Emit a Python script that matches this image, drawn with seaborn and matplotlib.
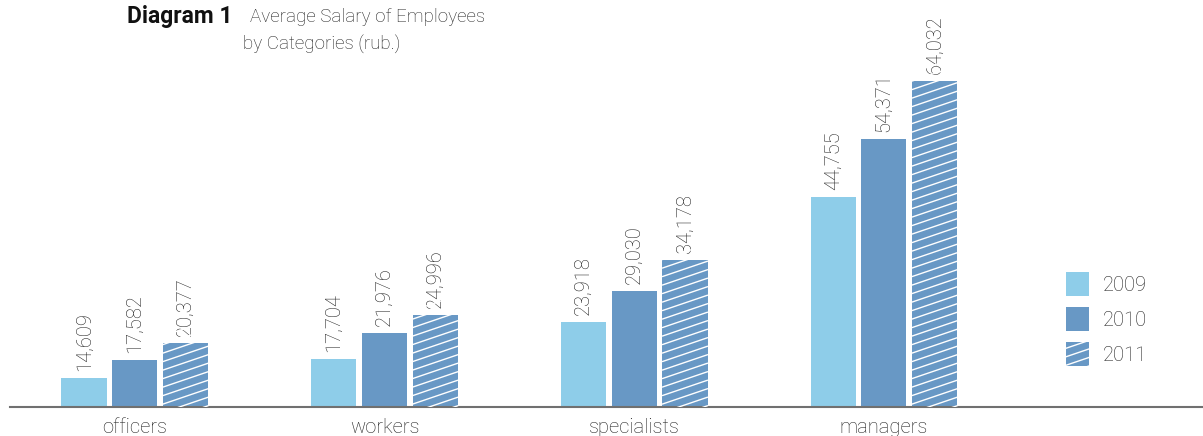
import numpy as np
import pandas as pd
import seaborn as sns
import matplotlib.pyplot as plt
from matplotlib.patches import Patch
from matplotlib.lines import Line2D
from matplotlib.transforms import IdentityTransform

categories = ["officers", "workers", "specialists", "managers"]
years = ["2009", "2010", "2011"]
salary_2009 = [14609, 17704, 23918, 44755]
salary_2010 = [17582, 21976, 29030, 54371]
salary_2011 = [20377, 24996, 34178, 64032]

colors = {"2009": "#8ecde9", "2010": "#6898c5", "2011": "#6898c5"}
txt = "#222222"

df = pd.DataFrame({
    "category": categories * 3,
    "year": ["2009"] * 4 + ["2010"] * 4 + ["2011"] * 4,
    "value": salary_2009 + salary_2010 + salary_2011,
})

sns.set_style("white")
plt.rcParams["font.family"] = ["Roboto", "DejaVu Sans"]
plt.rcParams["font.weight"] = "light"

W, H, dpi = 1203, 436, 100
fig = plt.figure(figsize=(W / dpi, H / dpi), dpi=dpi)
ax = fig.add_axes([10 / W, 29 / H, 1193 / W, 407 / H])

sns.barplot(data=df, x="category", y="value", hue="year", order=categories,
            hue_order=years, palette=colors, width=0.61, gap=0.11,
            linewidth=0, saturation=1, ax=ax, legend=False)

ax.set_xlim(-0.5, 4.278)
ax.set_ylim(9700, 77530)
ax.set_xlabel("")
ax.set_ylabel("")
ax.set_yticks([])
ax.tick_params(axis="x", length=0, pad=8, labelsize=14.5, labelcolor=txt)
for s in ["top", "left", "right"]:
    ax.spines[s].set_visible(False)
ax.spines["bottom"].set_color("#707070")
ax.spines["bottom"].set_linewidth(1.5)

for cont in ax.containers:
    for bar, v in zip(cont, cont.datavalues):
        ax.annotate(f"{int(v):,}", (bar.get_x() + bar.get_width() / 2, bar.get_height()),
                    xytext=(0, 5), textcoords="offset points", rotation=90,
                    ha="center", va="bottom", fontsize=14.5, color=txt)

# legend
handles = [Patch(facecolor=colors[y], edgecolor="none") for y in years]
leg = ax.legend(handles, years, loc="upper left", bbox_to_anchor=(1066 / W, 1 - 272 / H),
                bbox_transform=fig.transFigure, frameon=False, fontsize=14.5,
                handlelength=1.15, handleheight=1.45, handletextpad=0.7,
                labelspacing=0.55, borderpad=0, borderaxespad=0, labelcolor=txt)

fig.canvas.draw()


def shallow_hatch(patch, clip=None):
    # white shallow diagonal lines clipped to the bar
    bb = patch.get_window_extent()
    step = 8.5
    slope = 0.34
    x0, x1 = bb.x0, bb.x1
    start = bb.y0 - slope * (x1 - x0) - step
    for yy in np.arange(start, bb.y1 + step, step):
        ln = Line2D([x0, x1], [yy, yy + slope * (x1 - x0)], transform=IdentityTransform(),
                    color="white", lw=1.0)
        ln.set_clip_path(patch)
        if clip is not None:
            ln.set_clip_box(clip)
        fig.add_artist(ln)


for bar in ax.containers[2]:
    shallow_hatch(bar, ax.bbox)
shallow_hatch(leg.get_patches()[2])

fig.text(127 / W, 1 - 17 / H, "Diagram 1", fontsize=16.5, fontweight="bold",
         color="#111111", va="center", ha="left")
fig.text(250 / W, 1 - 17 / H, "Average Salary of Employees", fontsize=13.5,
         color=txt, va="center", ha="left")
fig.text(243 / W, 1 - 44 / H, "by Categories (rub.)", fontsize=13.5,
         color=txt, va="center", ha="left")

fig.savefig("out.png", dpi=dpi)
